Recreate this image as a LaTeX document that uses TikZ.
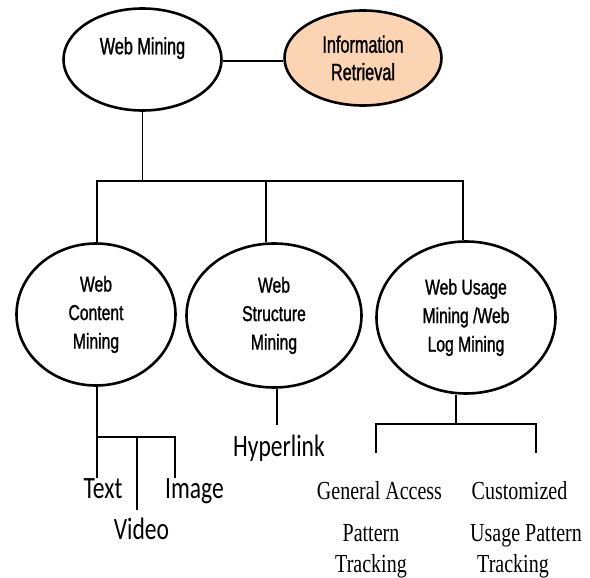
\documentclass[tikz,border=0pt]{standalone}
\usepackage{fontspec}
\usetikzlibrary{shapes.geometric}
\newfontfamily\topfont[FakeStretch=0.69,FakeBold=1.2]{Liberation Sans}
\newfontfamily\cirfont[FakeStretch=0.73,FakeBold=1.2]{Liberation Sans}
\newfontfamily\calfont[FakeStretch=0.76]{Carlito}
\newfontfamily\serfont[FakeStretch=0.77]{Liberation Serif}
\definecolor{peach}{RGB}{251,212,180}
\tikzset{
  topell/.style={ellipse, draw=black, line width=2.6pt, inner sep=0pt, align=center,
    font=\topfont\fontsize{23.5}{27.5}\selectfont},
  cirell/.style={ellipse, draw=black, line width=2.6pt, inner sep=0pt, align=center,
    font=\cirfont\fontsize{21.5}{28.5}\selectfont},
  conn/.style={line width=1.8pt, black},
  callbl/.style={inner sep=0pt, anchor=base, font=\calfont\fontsize{31}{36}\selectfont},
  serlbl/.style={inner sep=0pt, anchor=north, align=center, font=\serfont\fontsize{26}{31}\selectfont}
}
\begin{document}
\begin{tikzpicture}[x=1pt,y=-1pt]
\useasboundingbox (0,0) rectangle (590,578);
% top ellipses
\node[topell, minimum width=158pt, minimum height=102pt] (wm) at (142.5,59.5) {Web Mining\\ \mbox{}};
\node[topell, fill=peach, minimum width=157pt, minimum height=95pt] (ir) at (363,58) {Information\\Retrieval};
% circles
\node[cirell, minimum width=159pt, minimum height=142pt] (c1) at (96,314.5) {Web\\Content\\Mining};
\node[cirell, minimum width=175pt, minimum height=144pt] (c2) at (274,315.5) {Web\\Structure\\Mining};
\node[cirell, minimum width=179pt, minimum height=152pt] (c3) at (466,317.5) {Web Usage\\Mining /Web\\Log Mining};
% leaf labels
\node[callbl] (txt) at (103,498) {Text};
\node[callbl] (vid) at (141.5,539) {Video};
\node[callbl] (img) at (194.5,498) {Image};
\node[callbl] (hyp) at (279,456) {Hyperlink};
\node[serlbl] (gap) at (379.5,481) {General Access\\[11pt]Pattern\hspace*{17pt}\null\\Tracking\hspace*{17pt}\null};
\node[serlbl] (cup) at (519.5,481) {Customized\\[11pt]\null\hspace*{13pt}Usage Pattern\\Tracking\hspace*{13pt}\null};
% coordinates
\coordinate (busL) at (97,181);
\coordinate (busR) at (463,181);
\coordinate (b2) at (266,181);
\coordinate (v1) at (137,437);
\coordinate (i1) at (175,437);
\coordinate (h1) at (277,425);
\coordinate (u0) at (456,424);
\coordinate (uL) at (376,424);
\coordinate (uR) at (536,424);
\coordinate (uL2) at (376,453);
\coordinate (uR2) at (536,453);
% top connectors
\draw[conn] (wm.east |- 0,61) -- (ir.west |- 0,61);
\draw[conn] (wm.south) -- (wm.south |- busL);
\draw[conn] (busL |- c1.north) -- (busL) -- (busR) -- (busR |- c3.north);
\draw[conn] (b2) -- (b2 |- c2.north);
% content branch
\draw[conn] (busL |- c1.south) -- (busL |- txt.north);
\draw[conn] (busL |- i1) -- (i1) -- (i1 |- img.north);
\draw[conn] (v1) -- ([yshift=7pt]v1 |- vid.north);
% structure branch
\draw[conn] (h1 |- c2.south) -- (h1);
% usage branch
\draw[conn] (u0 |- c3.south) -- (u0);
\draw[conn] (uL2) -- (uL) -- (uR) -- (uR2);
\end{tikzpicture}
\end{document}
